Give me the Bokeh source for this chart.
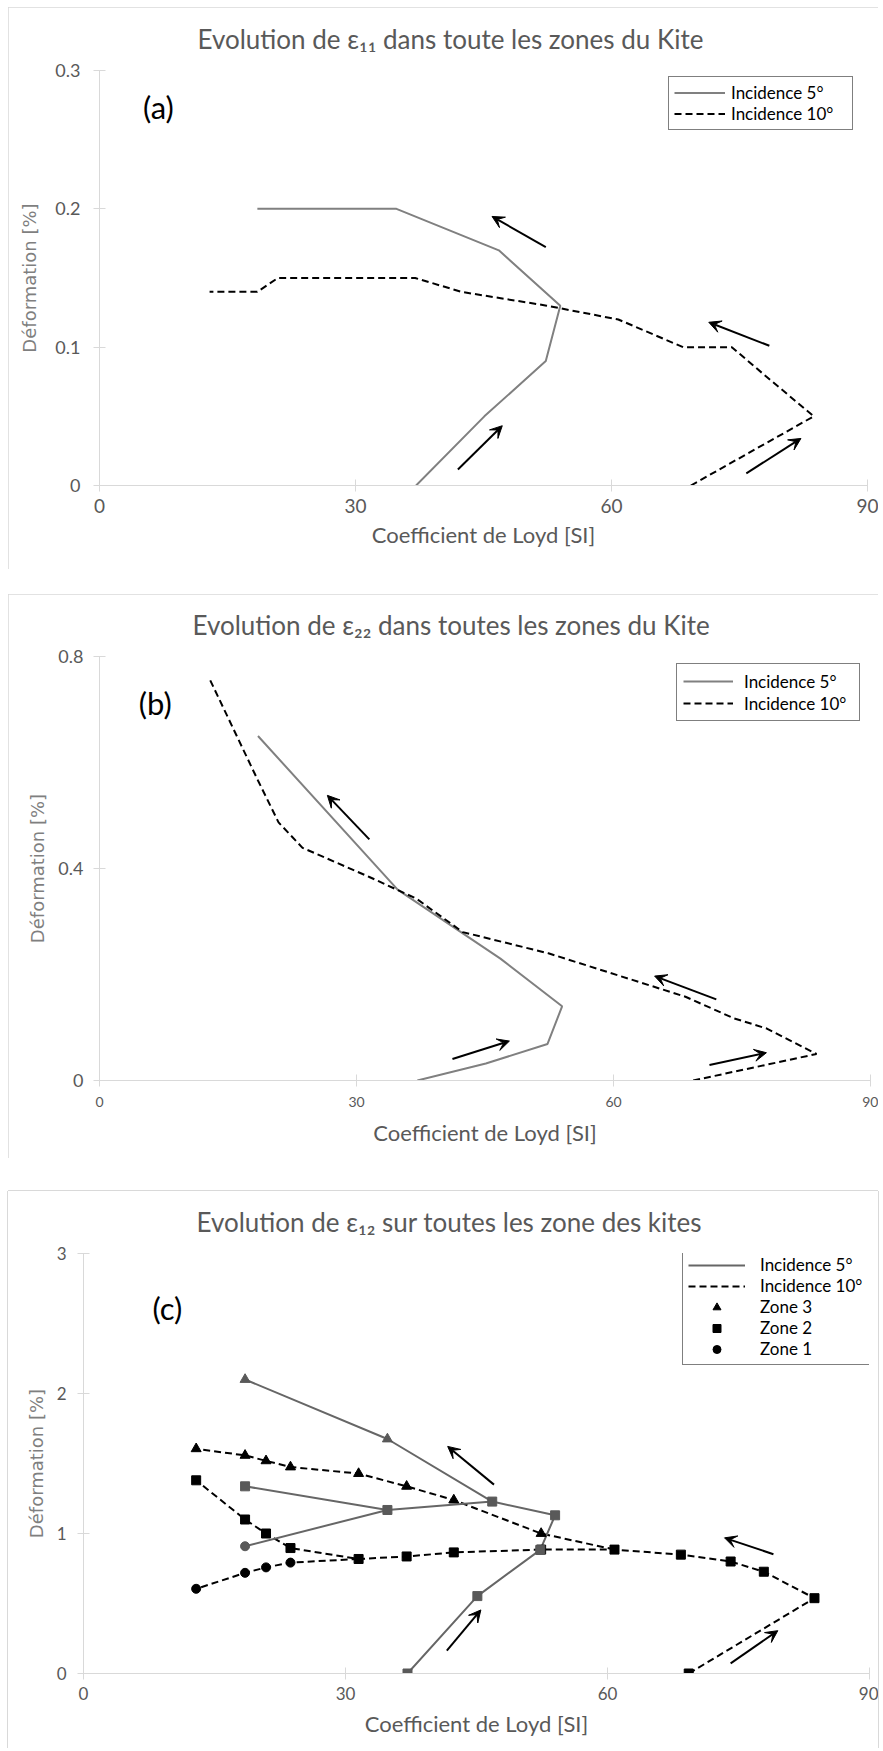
from bokeh.plotting import figure
from bokeh.layouts import column, row
from bokeh.models import (Range1d, FixedTicker, Legend, LegendItem, Arrow, VeeHead,
                          Label, Spacer)
from bokeh.embed import file_html
from bokeh.resources import INLINE

# ---------------- data ----------------
x_ticks = [0, 30, 60, 90]

# Coefficient de Loyd [SI] (path order, starting from zero strain)
x_inc5 = [37.1, 45.1, 52.3, 54.0, 46.8, 34.8, 18.5]
x_inc10 = [69.3, 83.7, 77.9, 74.1, 68.4, 60.8, 52.4, 42.4, 37.0, 31.5, 23.7, 20.9, 18.5, 12.9]

# (a) epsilon 11
e11_inc5 = [0, 0.05, 0.09, 0.13, 0.17, 0.20, 0.20]
e11_inc10 = [0, 0.05, 0.08, 0.10, 0.10, 0.12, 0.13, 0.14, 0.15, 0.15, 0.15, 0.15, 0.14, 0.14]
y_ticks_a = [0, 0.1, 0.2, 0.3]

# (b) epsilon 22
e22_inc5 = [0, 0.032, 0.069, 0.14, 0.23, 0.36, 0.65]
e22_inc10 = [0, 0.05, 0.098, 0.117, 0.158, 0.197, 0.24, 0.28, 0.343, 0.384, 0.439, 0.487, 0.566, 0.756]
y_ticks_b = [0, 0.4, 0.8]

# (c) epsilon 12, zone 2 = full path, zones 3 and 1 branch off it
e12_z2_inc5 = [0, 0.553, 0.883, 1.13, 1.228, 1.168, 1.337]
e12_z2_inc10 = [0, 0.538, 0.727, 0.80, 0.849, 0.885, 0.885, 0.865, 0.836, 0.818, 0.896, 1.00, 1.10, 1.38]
x_z3_inc5 = [34.8, 18.5]
e12_z3_inc5 = [1.675, 2.10]
x_z1_inc5 = [18.5]
e12_z1_inc5 = [0.909]
x_z3_inc10 = [52.4, 42.4, 37.0, 31.5, 23.7, 20.9, 18.5, 12.9]
e12_z3_inc10 = [1.0, 1.239, 1.337, 1.428, 1.475, 1.519, 1.558, 1.605]
x_z1_inc10 = [23.7, 20.9, 18.5, 12.9]
e12_z1_inc10 = [0.792, 0.758, 0.719, 0.605]
# index in the zone-2 path where each branch starts
branch_z3_inc5, branch_z1_inc5 = 4, 5
branch_z3_inc10, branch_z1_inc10 = 5, 9
y_ticks_c = [0, 1, 2, 3]

# arrows (x_start, y_start, x_end, y_end)
arrows_a = [(52.3, 0.1723, 46.0, 0.1945), (78.5, 0.101, 71.4, 0.118),
            (42.0, 0.0116, 47.2, 0.0432), (75.8, 0.0088, 82.2, 0.034)]
arrows_b = [(31.5, 0.455, 26.6, 0.538), (72.0, 0.153, 64.8, 0.197),
            (41.2, 0.0405, 47.85, 0.0744), (71.2, 0.0292, 77.85, 0.0524)]
arrows_c = [(47.0, 1.349, 41.7, 1.622), (79.0, 0.852, 73.4, 0.969),
            (41.6, 0.163, 45.5, 0.454), (74.1, 0.072, 79.5, 0.306)]

titles = ["Evolution de ε₁₁ dans toute les zones du Kite",
          "Evolution de ε₂₂ dans toutes les zones du Kite",
          "Evolution de ε₁₂ sur toutes les zone des kites"]
xlabel = "Coefficient de Loyd [SI]"
ylabel = "Déformation [%]"

FONT = "Lato"
GRAY_TXT = "#595959"
AXIS_GRAY = "#d9d9d9"
LINE5 = "#808080"
DASH = "7 4"


def base_fig(h, ymax, yticks, borders, title, title_offset, title_standoff, xt_size, yt_size,
             xt_stand, yt_stand, xl_stand, yl_stand, box):
    left, right, top, bottom = borders
    p = figure(width=870, height=h, x_range=Range1d(0, 90), y_range=Range1d(0, ymax),
               output_backend="svg", toolbar_location=None,
               min_border_left=left, min_border_right=right,
               min_border_top=top, min_border_bottom=bottom)
    if "frame_align" in p.properties():
        p.frame_align = False
    p.outline_line_color = None
    p.xgrid.visible = False
    p.ygrid.visible = False
    p.background_fill_color = "white"
    p.border_fill_color = "white"
    p.styles = box
    p.title.text = title
    p.title.align = "left"
    p.title.vertical_align = "top"
    p.title.offset = title_offset
    p.title.standoff = title_standoff
    p.title.text_font = FONT
    p.title.text_font_size = "26px"
    p.title.text_font_style = "normal"
    p.title.text_color = GRAY_TXT
    p.xaxis.ticker = FixedTicker(ticks=x_ticks)
    p.yaxis.ticker = FixedTicker(ticks=yticks)
    p.yaxis.major_label_overrides = {t: f"{t:g}" for t in yticks}
    for ax in (p.xaxis[0], p.yaxis[0]):
        ax.axis_line_color = AXIS_GRAY
        ax.major_tick_line_color = AXIS_GRAY
        ax.major_tick_in = 6
        ax.major_tick_out = 6
        ax.minor_tick_line_color = None
        ax.major_label_text_color = GRAY_TXT
        ax.major_label_text_font = FONT
    p.xaxis.major_label_text_font_size = xt_size
    p.yaxis.major_label_text_font_size = yt_size
    p.xaxis.major_label_standoff = xt_stand
    p.yaxis.major_label_standoff = yt_stand
    p.xaxis.axis_label = xlabel
    p.xaxis.axis_label_text_font = FONT
    p.xaxis.axis_label_text_font_size = "22px"
    p.xaxis.axis_label_text_font_style = "normal"
    p.xaxis.axis_label_text_color = GRAY_TXT
    p.xaxis.axis_label_standoff = xl_stand
    p.yaxis.axis_label = ylabel
    p.yaxis.axis_label_text_font = "DejaVu Sans"
    p.yaxis.axis_label_text_font_size = "18px"
    p.yaxis.axis_label_text_font_style = "normal"
    p.yaxis.axis_label_text_color = "#7f7f7f"
    p.yaxis.axis_label_standoff = yl_stand
    return p


def add_arrows(p, arrows):
    for xs, ys, xe, ye in arrows:
        p.add_layout(Arrow(end=VeeHead(size=12, fill_color="black", line_color="black",
                                       line_width=1),
                           x_start=xs, y_start=ys, x_end=xe, y_end=ye,
                           line_color="black", line_width=2))


def add_tag(p, text, x, y):
    p.add_layout(Label(x=x, y=y, text=text, text_font=FONT, text_font_size="31px",
                       text_align="center", text_baseline="middle", text_color="black"))


def make_legend(p, items, loc, padding, label_height, spacing, glyph_width, standoff, lw):
    lg = Legend(items=items, location=loc, padding=padding, margin=0,
                label_height=label_height, spacing=spacing, glyph_width=glyph_width,
                glyph_height=label_height, label_standoff=standoff, label_width=lw,
                border_line_color="black", border_line_width=1,
                background_fill_color="white", background_fill_alpha=1,
                label_text_font=FONT, label_text_font_size="17px",
                label_text_color="black")
    p.add_layout(lg, "center")


box_full = {"outline": "1px solid #d9d9d9", "outline-offset": "-1px"}
box_open = {"box-shadow": "-1px 0 0 0 #d9d9d9, 1px 0 0 0 #d9d9d9, 0 -1px 0 0 #d9d9d9"}

# ---------------- (a) ----------------
pa = base_fig(562, 0.3, y_ticks_a, (91, 11, 63, 84), titles[0], 98, 28,
              "19px", "18px", 7, 13, 5, 12, box_full)
la5 = pa.line(x_inc5, e11_inc5, line_color=LINE5, line_width=2)
la10 = pa.line(x_inc10, e11_inc10, line_color="black", line_width=2, line_dash=DASH)
add_arrows(pa, arrows_a)
add_tag(pa, "(a)", 6.9, 0.2734)
make_legend(pa, [LegendItem(label="Incidence 5°", renderers=[la5]),
                 LegendItem(label="Incidence 10°", renderers=[la10])],
            (569, 355), 5, 21, 0, 51, 6, 116)

# ---------------- (b) ----------------
pb = base_fig(564, 0.8, y_ticks_b, (91, 8, 62, 78), titles[1], 93, 27,
              "14px", "18px", 10, 10, 9, 7, box_full)
lb5 = pb.line(x_inc5, e22_inc5, line_color=LINE5, line_width=2)
lb10 = pb.line(x_inc10, e22_inc10, line_color="black", line_width=2, line_dash=DASH)
add_arrows(pb, arrows_b)
add_tag(pb, "(b)", 6.5, 0.713)
make_legend(pb, [LegendItem(label="Incidence 5°", renderers=[lb5]),
                 LegendItem(label="Incidence 10°", renderers=[lb10])],
            (577, 359), 6, 22, 0, 50, 11, 109)

# ---------------- (c) ----------------
pc = base_fig(557, 3, y_ticks_c, (75, 9, 62, 75), titles[2], 113, 27,
              "17px", "17px", 7, 11, 7, 7, box_open)
G5 = "#666666"
M5 = "#595959"
# incidence 10 (dashed, black markers)
l10 = pc.line(x_inc10, e12_z2_inc10, line_color="black", line_width=2, line_dash=DASH)
pc.line([x_inc10[branch_z3_inc10]] + x_z3_inc10, [e12_z2_inc10[branch_z3_inc10]] + e12_z3_inc10,
        line_color="black", line_width=2, line_dash=DASH)
pc.line([x_inc10[branch_z1_inc10]] + x_z1_inc10, [e12_z2_inc10[branch_z1_inc10]] + e12_z1_inc10,
        line_color="black", line_width=2, line_dash=DASH)
# incidence 5 (solid, gray markers)
l5 = pc.line(x_inc5, e12_z2_inc5, line_color=G5, line_width=2)
pc.line([x_inc5[branch_z3_inc5]] + x_z3_inc5, [e12_z2_inc5[branch_z3_inc5]] + e12_z3_inc5,
        line_color=G5, line_width=2)
pc.line([x_inc5[branch_z1_inc5]] + x_z1_inc5, [e12_z2_inc5[branch_z1_inc5]] + e12_z1_inc5,
        line_color=G5, line_width=2)
m3 = pc.scatter(x_z3_inc10, e12_z3_inc10, marker="triangle", size=10, color="black")
m2 = pc.scatter(x_inc10, e12_z2_inc10, marker="square", size=9, color="black")
m1 = pc.scatter(x_z1_inc10, e12_z1_inc10, marker="circle", size=9, color="black")
pc.scatter(x_z3_inc5, e12_z3_inc5, marker="triangle", size=10, color=M5)
pc.scatter(x_inc5, e12_z2_inc5, marker="square", size=9, color=M5)
pc.scatter(x_z1_inc5, e12_z1_inc5, marker="circle", size=9, color=M5)
add_arrows(pc, arrows_c)
add_tag(pc, "(c)", 9.6, 2.61)
make_legend(pc, [LegendItem(label="Incidence 5°", renderers=[l5]),
                 LegendItem(label="Incidence 10°", renderers=[l10]),
                 LegendItem(label="Zone 3", renderers=[m3]),
                 LegendItem(label="Zone 2", renderers=[m2]),
                 LegendItem(label="Zone 1", renderers=[m1])],
            (599, 308), 5, 20, 0, 57, 15, 104)

layout = row(Spacer(width=8),
             column(Spacer(height=7), pa, Spacer(height=25), pb, Spacer(height=33), pc))
open("out.html", "w").write(file_html(layout, INLINE))
